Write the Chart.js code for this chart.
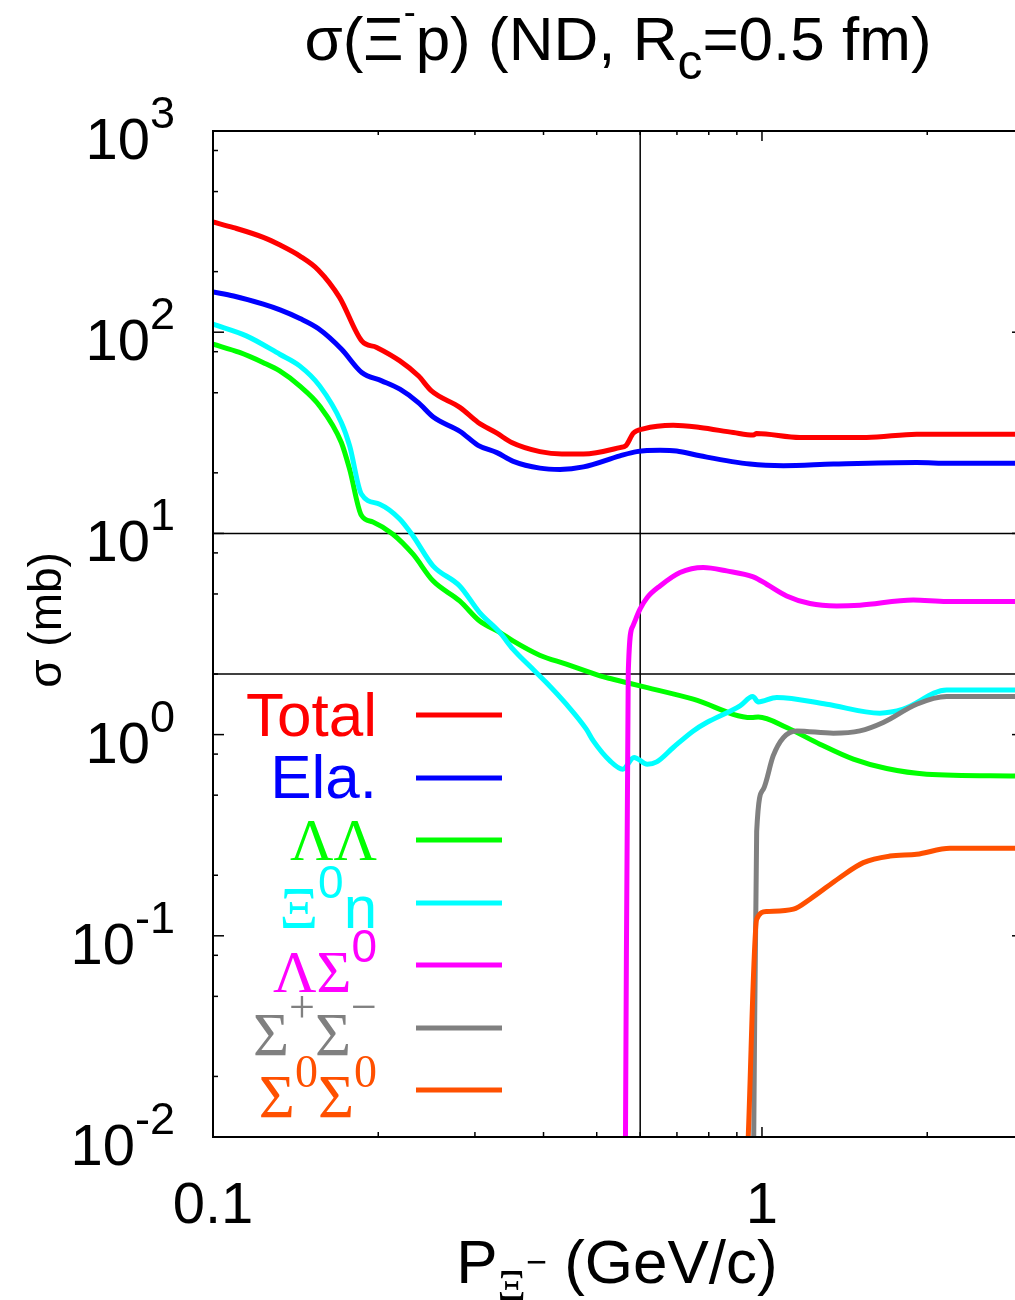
<!DOCTYPE html>
<html>
<head>
<meta charset="utf-8">
<script src="https://cdn.jsdelivr.net/npm/chart.js@4.4.1/dist/chart.umd.min.js"></script>
<style>
  html, body { margin: 0; padding: 0; background: #ffffff; }
  canvas { display: block; }
</style>
</head>
<body>
<canvas id="chart" width="1015" height="1300"></canvas>
<script>
// Xi^- p cross sections (mb) versus laboratory momentum (GeV/c), ND model, Rc = 0.5 fm

const totalP     = [0.100, 0.109, 0.1235, 0.1325, 0.144, 0.1555, 0.170, 0.1866, 0.1987, 0.219, 0.2366, 0.250, 0.282, 0.304, 0.329, 0.350, 0.394, 0.432, 0.473, 0.551, 0.565, 0.583, 0.608, 0.689, 0.771, 0.887, 0.964, 0.978, 1.173, 1.551, 1.913, 2.89];
const totalSigma = [353, 331, 296, 271, 239, 204, 149, 90.5, 84, 72, 60.7, 51.1, 42.2, 35.6, 31.5, 28.3, 25.5, 24.8, 24.8, 26.7, 27.3, 31.5, 33.1, 34.5, 33.6, 31.7, 30.8, 31.4, 30.0, 30.0, 31.1, 31.1];

const elaP     = [0.100, 0.109, 0.1235, 0.1325, 0.144, 0.1555, 0.1715, 0.1866, 0.2029, 0.219, 0.2366, 0.2519, 0.282, 0.304, 0.329, 0.3524, 0.394, 0.4286, 0.473, 0.551, 0.5913, 0.652, 0.699, 0.771, 0.951, 1.094, 1.349, 1.913, 2.2, 2.89];
const elaSigma = [158.6, 151.4, 137.8, 129.1, 117, 104.3, 82.3, 63.1, 57.3, 52.1, 44.7, 37.9, 32.1, 27.4, 25.2, 22.8, 21.1, 20.8, 21.4, 24.3, 25.5, 25.9, 25.7, 24.3, 22.1, 21.7, 22.1, 22.5, 22.3, 22.3];

const llP     = [0.100, 0.1118, 0.1233, 0.1323, 0.1438, 0.1564, 0.1713, 0.1774, 0.1863, 0.1956, 0.2127, 0.2314, 0.2516, 0.2814, 0.306, 0.3329, 0.3519, 0.3936, 0.4401, 0.4786, 0.5069, 0.5354, 0.5995, 0.7497, 0.9576, 0.9846, 1.109, 1.275, 1.467, 1.687, 1.995, 2.89];
const llSigma = [87.2, 79.3, 70.7, 64.2, 54.1, 43.0, 28.3, 20.8, 12.3, 11.4, 9.91, 7.88, 5.81, 4.62, 3.67, 3.22, 2.92, 2.48, 2.24, 2.07, 1.957, 1.885, 1.746, 1.500, 1.216, 1.224, 1.085, 0.896, 0.755, 0.678, 0.636, 0.623];

const xnP     = [0.100, 0.115, 0.1323, 0.1438, 0.1564, 0.1713, 0.1774, 0.1863, 0.2012, 0.2188, 0.2314, 0.2516, 0.2814, 0.306, 0.3329, 0.3519, 0.3775, 0.4047, 0.4401, 0.4786, 0.4929, 0.5286, 0.5576, 0.5847, 0.6181, 0.643, 0.6893, 0.7497, 0.7931, 0.912, 0.9618, 0.9846, 1.0636, 1.3118, 1.640, 1.808, 2.170, 2.89];
const xnSigma = [109.6, 95.9, 77.7, 68, 54.1, 35.6, 27.2, 15.7, 13.97, 11.8, 9.71, 6.90, 5.48, 4.04, 3.22, 2.66, 2.19, 1.815, 1.416, 1.064, 0.930, 0.740, 0.673, 0.770, 0.713, 0.732, 0.863, 1.043, 1.148, 1.389, 1.546, 1.454, 1.529, 1.416, 1.278, 1.337, 1.668, 1.668];

const lsP     = [0.5641, 0.5707, 0.5814, 0.5995, 0.618, 0.652, 0.709, 0.782, 0.8625, 0.964, 1.020, 1.109, 1.223, 1.368, 1.508, 1.886, 2.17, 2.89];
const lsSigma = [0.01, 2.03, 3.45, 4.20, 4.80, 5.48, 6.39, 6.77, 6.51, 6.08, 5.59, 4.89, 4.48, 4.36, 4.40, 4.67, 4.59, 4.59];

const spmP     = [0.966, 0.978, 1.0055, 1.048, 1.094, 1.157, 1.349, 1.508, 1.663, 1.913, 2.17, 2.89];
const spmSigma = [0.01, 0.33, 0.535, 0.784, 0.967, 1.043, 1.016, 1.043, 1.148, 1.416, 1.546, 1.546];

const s00P     = [0.944, 0.978, 1.020, 1.141, 1.223, 1.387, 1.530, 1.711, 1.913, 2.2, 2.89];
const s00Sigma = [0.01, 0.121, 0.132, 0.1356, 0.152, 0.195, 0.231, 0.249, 0.254, 0.272, 0.272];

// axis ranges, tick values and labels
const xMin = 0.1, xMax = 2.89;
const yMin = 0.01, yMax = 1000;
const xMajorTicks = [0.1, 1];
const xMinorTicks = [0.2, 0.3, 0.4, 0.5, 0.6, 0.7, 0.8, 0.9, 2];
const xTickLabels = ['0.1', '1'];
const yDecades = [1000, 100, 10, 1, 0.1, 0.01];
const yExponents = ['3', '2', '1', '0', '-1', '-2'];
const yMinorMantissas = [2, 5, 8];

// guide lines
const guideMomentum = 0.6;
const guideSigmas = [10, 2];

const SANS = '"Liberation Sans", Arial, sans-serif';
const SERIF = '"Liberation Serif", "Times New Roman", serif';

const COLORS = {
  total: '#ff0000', ela: '#0000ff', ll: '#00ff00', xn: '#00ffff',
  ls: '#ff00ff', spm: '#808080', s00: '#ff5000'
};

const toPoints = (xs, ys) => xs.map((x, i) => ({ x: x, y: ys[i] }));

function curve(xs, ys, color, order) {
  return {
    data: toPoints(xs, ys),
    borderColor: color,
    backgroundColor: color,
    borderWidth: 5,
    pointRadius: 0,
    fill: false,
    cubicInterpolationMode: 'monotone',
    borderJoinStyle: 'round',
    order: order
  };
}

function guide(data) {
  return { data: data, borderColor: '#000000', borderWidth: 1.5, pointRadius: 0, fill: false, order: 20 };
}

const datasets = [
  guide([{ x: guideMomentum, y: yMin }, { x: guideMomentum, y: yMax }]),
  guide([{ x: xMin, y: guideSigmas[0] }, { x: xMax, y: guideSigmas[0] }]),
  guide([{ x: xMin, y: guideSigmas[1] }, { x: xMax, y: guideSigmas[1] }]),
  curve(totalP, totalSigma, COLORS.total, 7),
  curve(elaP, elaSigma, COLORS.ela, 6),
  curve(llP, llSigma, COLORS.ll, 5),
  curve(xnP, xnSigma, COLORS.xn, 4),
  curve(lsP, lsSigma, COLORS.ls, 3),
  curve(spmP, spmSigma, COLORS.spm, 2),
  curve(s00P, s00Sigma, COLORS.s00, 1)
];

// text runs drawn one after another (for sub/superscripts and mixed fonts)
function drawRuns(ctx, runs, x, y, align) {
  let total = 0;
  runs.forEach(r => { ctx.font = r.font; r.w = ctx.measureText(r.t).width; total += r.w; });
  let cx = align === 'right' ? x - total : (align === 'center' ? x - total / 2 : x);
  ctx.textAlign = 'left';
  ctx.textBaseline = 'alphabetic';
  runs.forEach(r => {
    ctx.font = r.font;
    ctx.fillStyle = r.color || '#000000';
    ctx.fillText(r.t, cx, y + (r.dy || 0));
    cx += r.w;
  });
}

const legendRows = [
  { color: COLORS.total, base: 736, lineY: 715, runs: [{ t: 'Total', font: '62px ' + SANS }] },
  { color: COLORS.ela, base: 798, lineY: 778, runs: [{ t: 'Ela.', font: '62px ' + SANS }] },
  { color: COLORS.ll, base: 860, lineY: 840, runs: [{ t: 'ΛΛ', font: '60px ' + SERIF }] },
  { color: COLORS.xn, base: 928, lineY: 903, runs: [
      { t: 'Ξ', font: '60px ' + SERIF }, { t: '0', font: '46px ' + SANS, dy: -30 }, { t: 'n', font: '60px ' + SANS }] },
  { color: COLORS.ls, base: 992, lineY: 965, runs: [
      { t: 'ΛΣ', font: '60px ' + SERIF }, { t: '0', font: '46px ' + SANS, dy: -30 }] },
  { color: COLORS.spm, base: 1055, lineY: 1028, runs: [
      { t: 'Σ', font: '62px ' + SERIF }, { t: '+', font: '46px ' + SERIF, dy: -33 },
      { t: 'Σ', font: '62px ' + SERIF }, { t: '−', font: '46px ' + SERIF, dy: -33 }] },
  { color: COLORS.s00, base: 1117, lineY: 1090, runs: [
      { t: 'Σ', font: '62px ' + SERIF }, { t: '0', font: '46px ' + SERIF, dy: -30 },
      { t: 'Σ', font: '62px ' + SERIF }, { t: '0', font: '46px ' + SERIF, dy: -30 }] }
];

const decorations = {
  id: 'decorations',
  afterDraw(chart) {
    const ctx = chart.ctx;
    const area = chart.chartArea;
    const xs = chart.scales.x, ys = chart.scales.y;
    ctx.save();

    // frame
    ctx.strokeStyle = '#000000';
    ctx.lineWidth = 2;
    ctx.beginPath();
    ctx.moveTo(area.right + 2, area.top); ctx.lineTo(area.left, area.top);
    ctx.lineTo(area.left, area.bottom); ctx.lineTo(area.right + 2, area.bottom);
    ctx.stroke();

    // inward tick marks
    ctx.lineWidth = 1.5;
    const tick = (x1, y1, x2, y2) => { ctx.beginPath(); ctx.moveTo(x1, y1); ctx.lineTo(x2, y2); ctx.stroke(); };
    xMajorTicks.forEach(v => {
      const px = xs.getPixelForValue(v);
      tick(px, area.bottom, px, area.bottom - 10);
      tick(px, area.top, px, area.top + 10);
    });
    xMinorTicks.forEach(v => {
      const px = xs.getPixelForValue(v);
      tick(px, area.bottom, px, area.bottom - 5);
      tick(px, area.top, px, area.top + 4);
    });
    yDecades.forEach(v => {
      const py = ys.getPixelForValue(v);
      tick(area.left, py, area.left + 11, py);
      tick(area.right, py, area.right - 3, py);
      if (v < yMax) {
        yMinorMantissas.forEach(m => {
          const pm = ys.getPixelForValue(v * m);
          tick(area.left, pm, area.left + 5, pm);
        });
      }
    });

    // y tick labels: 10 with exponent
    yDecades.forEach((v, i) => {
      const py = ys.getPixelForValue(v);
      drawRuns(ctx, [
        { t: '10', font: '58px ' + SANS },
        { t: yExponents[i], font: '45px ' + SANS, dy: -31 }
      ], 175, py + 28, 'right');
    });

    // x tick labels
    xMajorTicks.forEach((v, i) => {
      const px = xs.getPixelForValue(v);
      drawRuns(ctx, [{ t: xTickLabels[i], font: '58px ' + SANS }], px, 1223, 'center');
    });

    // x axis title
    drawRuns(ctx, [
      { t: 'P', font: '62px ' + SANS },
      { t: 'Ξ', font: '44px ' + SERIF, dy: 17 },
      { t: '−', font: '36px ' + SANS, dy: -9 },
      { t: ' (GeV/c)', font: '62px ' + SANS }
    ], 617, 1283, 'center');

    // y axis title
    ctx.save();
    ctx.translate(61, 620);
    ctx.rotate(-Math.PI / 2);
    drawRuns(ctx, [{ t: 'σ (mb)', font: '46px ' + SANS }], 0, 0, 'center');
    ctx.restore();

    // title
    drawRuns(ctx, [
      { t: 'σ(Ξ', font: '62px ' + SANS },
      { t: '-', font: '36px ' + SANS, dy: -36 },
      { t: 'p) (ND, R', font: '62px ' + SANS },
      { t: 'c', font: '50px ' + SANS, dy: 19 },
      { t: '=0.5 fm)', font: '62px ' + SANS }
    ], 618, 60, 'center');

    // legend
    legendRows.forEach(row => {
      row.runs.forEach(r => { r.color = row.color; });
      drawRuns(ctx, row.runs, 377, row.base, 'right');
      ctx.strokeStyle = row.color;
      ctx.lineWidth = 5;
      ctx.beginPath();
      ctx.moveTo(416, row.lineY);
      ctx.lineTo(502, row.lineY);
      ctx.stroke();
    });

    ctx.restore();
  }
};

new Chart(document.getElementById('chart'), {
  type: 'scatter',
  data: { datasets: datasets },
  options: {
    responsive: false,
    animation: false,
    devicePixelRatio: 1,
    showLine: true,
    layout: { padding: { left: 213, top: 131, right: 0, bottom: 163 } },
    plugins: { legend: { display: false }, title: { display: false }, tooltip: { enabled: false } },
    scales: {
      x: { type: 'logarithmic', min: xMin, max: xMax, display: false },
      y: { type: 'logarithmic', min: yMin, max: yMax, display: false }
    }
  },
  plugins: [decorations]
});
</script>
</body>
</html>
